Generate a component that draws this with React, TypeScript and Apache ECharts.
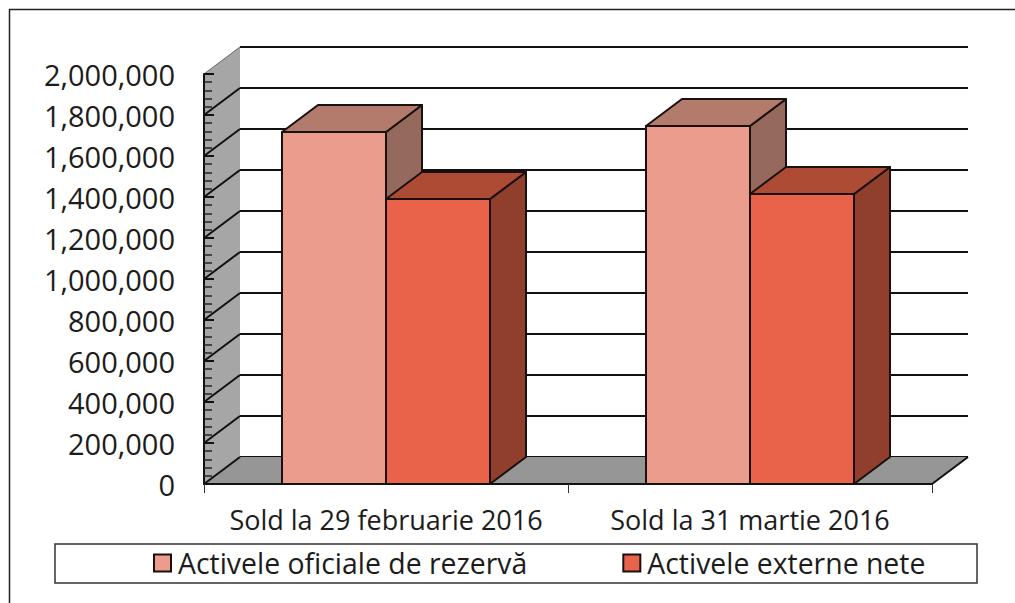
import React, { useEffect, useRef } from "react";
import * as echarts from "echarts";

const categories = ["Sold la 29 februarie 2016", "Sold la 31 martie 2016"];
const seriesNames = ["Activele oficiale de rezervă", "Activele externe nete"];
const rezerva = [1717000, 1746000];
const externe = [1390000, 1415000];
const yMax = 2000000;
const yStep = 200000;
const yTicks = [0, 200000, 400000, 600000, 800000, 1000000, 1200000, 1400000, 1600000, 1800000, 2000000];

const DX = 36;
const DY = -27;
const FONT = "'Open Sans', 'Noto Sans', sans-serif";

function bar3d(sign: number, front: string, top: string, side: string) {
  return (params: any, api: any) => {
    const cat = api.value(0);
    const base = api.coord([cat, 0]);
    const tip = api.coord([cat, api.value(1)]);
    const w = api.size([1, 0])[0] * (2 / 7);
    const x0 = sign < 0 ? base[0] - w : base[0];
    const x1 = x0 + w;
    const y0 = base[1];
    const y1 = tip[1];
    const stroke = { stroke: "#1a1010", lineWidth: 2, lineJoin: "round" };
    return {
      type: "group",
      children: [
        { type: "polygon", shape: { points: [[x1, y0], [x1 + DX, y0 + DY], [x1 + DX, y1 + DY], [x1, y1]] }, style: { fill: side, ...stroke } },
        { type: "polygon", shape: { points: [[x0, y1], [x1, y1], [x1 + DX, y1 + DY], [x0 + DX, y1 + DY]] }, style: { fill: top, ...stroke } },
        { type: "rect", shape: { x: x0, y: y1, width: w, height: y0 - y1 }, style: { fill: front, ...stroke } },
      ],
    };
  };
}

function wallSegment(params: any, api: any) {
  const v = api.value(1);
  const band = api.size([1, 0])[0];
  const a = api.coord([0, v]);
  const x = a[0] - band / 2;
  return {
    type: "line",
    shape: { x1: x, y1: a[1], x2: x + DX, y2: a[1] + DY },
    style: { stroke: v === yMax ? "#666666" : "#111111", lineWidth: v === yMax ? 1 : 2 },
  };
}

function walls(params: any, api: any) {
  const band = api.size([1, 0])[0];
  const a0 = api.coord([0, 0]);
  const b0 = api.coord([0, yMax]);
  const c0 = api.coord([1, 0]);
  const xl = a0[0] - band / 2;
  const xr = c0[0] + band / 2;
  const yb = a0[1];
  const yt = b0[1];
  return {
    type: "group",
    children: [
      { type: "polygon", shape: { points: [[xl, yb], [xl + DX, yb + DY], [xl + DX, yt + DY], [xl, yt]] }, style: { fill: "#a6a6a6" } },
      { type: "polygon", shape: { points: [[xl, yb], [xl + DX, yb + DY], [xr + DX, yb + DY], [xr, yb]] }, style: { fill: "#969696" } },
      { type: "line", shape: { x1: xr, y1: yb, x2: xr + DX, y2: yb + DY }, style: { stroke: "#111111", lineWidth: 2 } },
    ],
  };
}

export default function App() {
  const ref = useRef<HTMLDivElement>(null);
  useEffect(() => {
    const chart = echarts.init(ref.current!, null, { renderer: "svg" });
    const labelFmt = (v: number) => v.toLocaleString("en-US");
    chart.setOption({
      animation: false,
      backgroundColor: "#ffffff",
      grid: [
        { left: 204, top: 74, width: 728, height: 410 },
        { left: 240, top: 47, width: 728, height: 410 },
      ],
      xAxis: [
        {
          type: "category",
          gridIndex: 0,
          data: categories,
          z: 6,
          axisLine: { show: true, onZero: false, lineStyle: { color: "#111111", width: 2 } },
          axisTick: { show: true, length: 9, alignWithLabel: false, lineStyle: { color: "#333333", width: 1 } },
          axisLabel: { fontFamily: FONT, fontSize: 27, color: "#1c1c1c", margin: 22, interval: 0, hideOverlap: false },
        },
        {
          type: "category",
          gridIndex: 1,
          data: categories,
          show: false,
        },
      ],
      yAxis: [
        {
          type: "value",
          gridIndex: 0,
          min: 0,
          max: yMax,
          interval: yStep,
          z: 6,
          splitLine: { show: false },
          axisLine: { show: true, lineStyle: { color: "#111111", width: 2 } },
          axisTick: { show: true, inside: true, length: 10, lineStyle: { color: "#111111", width: 2 } },
          minorTick: { show: true, splitNumber: 5, length: 8, lineStyle: { color: "#222222", width: 1.5 } },
          axisLabel: { fontFamily: FONT, fontSize: 29, color: "#1c1c1c", margin: 29, formatter: labelFmt },
        },
        {
          type: "value",
          gridIndex: 1,
          min: 0,
          max: yMax,
          interval: yStep,
          axisLine: { show: false },
          axisTick: { show: false },
          axisLabel: { show: false },
          splitLine: { show: true, lineStyle: { color: "#111111", width: 2 } },
        },
      ],
      legend: {
        data: seriesNames,
        left: 55,
        top: 544,
        width: 922,
        orient: "horizontal",
        padding: [5, 0, 5, 98],
        icon: "rect",
        itemWidth: 17,
        itemHeight: 17,
        itemGap: 95,
        textStyle: { fontFamily: FONT, fontSize: 28.4, color: "#1c1c1c", padding: [0, 0, 0, 2] },
      },
      graphic: [
        { type: "polyline", shape: { points: [[9.5, 603], [9.5, 9.5], [1015, 9.5]] }, style: { fill: "none", stroke: "#222222", lineWidth: 1.5 }, silent: true, z: 1 },
        { type: "rect", shape: { x: 55, y: 544, width: 922, height: 39 }, style: { fill: "none", stroke: "#333333", lineWidth: 1.5 }, silent: true, z: 1 },
      ],
      series: [
        {
          type: "custom",
          name: "walls",
          xAxisIndex: 0,
          yAxisIndex: 0,
          z: 1,
          data: [[0, 0]],
          encode: { x: 0, y: 1 },
          renderItem: walls,
          silent: true,
        },
        {
          type: "custom",
          name: "wallLines",
          xAxisIndex: 0,
          yAxisIndex: 0,
          z: 2,
          data: yTicks.map((v) => [0, v]),
          encode: { x: 0, y: 1 },
          renderItem: wallSegment,
          silent: true,
        },
        {
          type: "custom",
          name: seriesNames[0],
          xAxisIndex: 0,
          yAxisIndex: 0,
          z: 3,
          itemStyle: { color: "#ec9c8d", borderColor: "#1a1010", borderWidth: 2 },
          data: rezerva.map((v, i) => [i, v]),
          encode: { x: 0, y: 1 },
          renderItem: bar3d(-1, "#ec9c8d", "#b27b6b", "#96695d"),
        },
        {
          type: "custom",
          name: seriesNames[1],
          xAxisIndex: 0,
          yAxisIndex: 0,
          z: 4,
          itemStyle: { color: "#e9634a", borderColor: "#1a1010", borderWidth: 2 },
          data: externe.map((v, i) => [i, v]),
          encode: { x: 0, y: 1 },
          renderItem: bar3d(1, "#e9634a", "#ad4b35", "#8f3f2c"),
        },
      ],
    });
    return () => chart.dispose();
  }, []);
  return <div ref={ref} style={{ position: "fixed", left: 0, top: 0, width: 1015, height: 603 }} />;
}
